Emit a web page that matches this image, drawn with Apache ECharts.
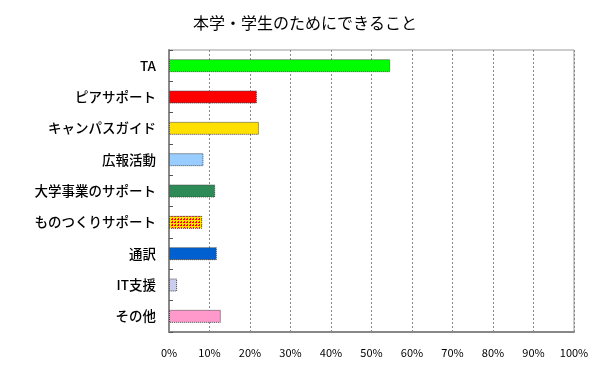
<!DOCTYPE html>
<html><head><meta charset="utf-8">
<script src="https://cdn.jsdelivr.net/npm/echarts@6/dist/echarts.min.js"></script>
<style>html,body{margin:0;padding:0;background:#fff}#c{width:600px;height:372px}</style>
</head><body><div id="c"></div>
<script>
const categories = ['TA','ピアサポート','キャンパスガイド','広報活動','大学事業のサポート','ものつくりサポート','通訳','IT支援','その他'];
const values = [54.6, 21.7, 22.2, 8.5, 11.4, 8.2, 11.8, 2.0, 12.8];
const xTicks = [0,10,20,30,40,50,60,70,80,90,100];
const barColors = ['#00ff00','#ff0000','#ffe000','#99ccff','#2e8b57','PATTERN','#0060d0','#ccccee','#ff99cc'];

function makePattern(){
  const cv = document.createElement('canvas'); cv.width=3; cv.height=3;
  const g = cv.getContext('2d');
  g.fillStyle='#ffe000'; g.fillRect(0,0,3,3);
  g.fillStyle='#ff0000';
  g.fillRect(0,0,2,1); g.fillRect(1,2,1,1);
  return {image: cv, repeat: 'repeat'};
}
const pat = makePattern();
const font = '"Noto Sans CJK JP", "Noto Sans", sans-serif';
const chart = echarts.init(document.getElementById('c'), null, {renderer:'canvas'});
chart.setOption({
  animation:false,
  backgroundColor:'#fff',
  title:{text:'本学・学生のためにできること', left:300, top:10, textAlign:'center',
    textStyle:{fontSize:16, fontWeight:'normal', color:'#000', fontFamily:font}},
  grid:{left:169, right:26, top:50, bottom:40, show:true, borderColor:'#999', borderWidth:1},
  xAxis:{type:'value', min:0, max:100, interval:10,
    axisLine:{show:true, lineStyle:{color:'#888', width:2}},
    axisTick:{show:false},
    axisLabel:{formatter: v => xTicks.includes(v) ? v+'%' : '', color:'#000', fontSize:11, margin:15, fontFamily:font},
    splitLine:{show:true, lineStyle:{color:'#888', type:[2,2], width:1}}},
  yAxis:{type:'category', data:categories, inverse:true,
    axisLine:{show:true, lineStyle:{color:'#888', width:2}},
    axisTick:{show:true, inside:true, length:4, lineStyle:{color:'#555'}},
    axisLabel:{color:'#000', fontSize:13.5, fontWeight:500, margin:13, fontFamily:font},
    splitLine:{show:false}},
  series:[{type:'bar', barWidth:13,
    data: values.map((v,i)=>({value:v, itemStyle:{color: barColors[i]==='PATTERN'? pat : barColors[i]}})),
    itemStyle:{borderColor:'#444', borderWidth:1, borderType:'dotted'}}]
});
</script></body></html>
